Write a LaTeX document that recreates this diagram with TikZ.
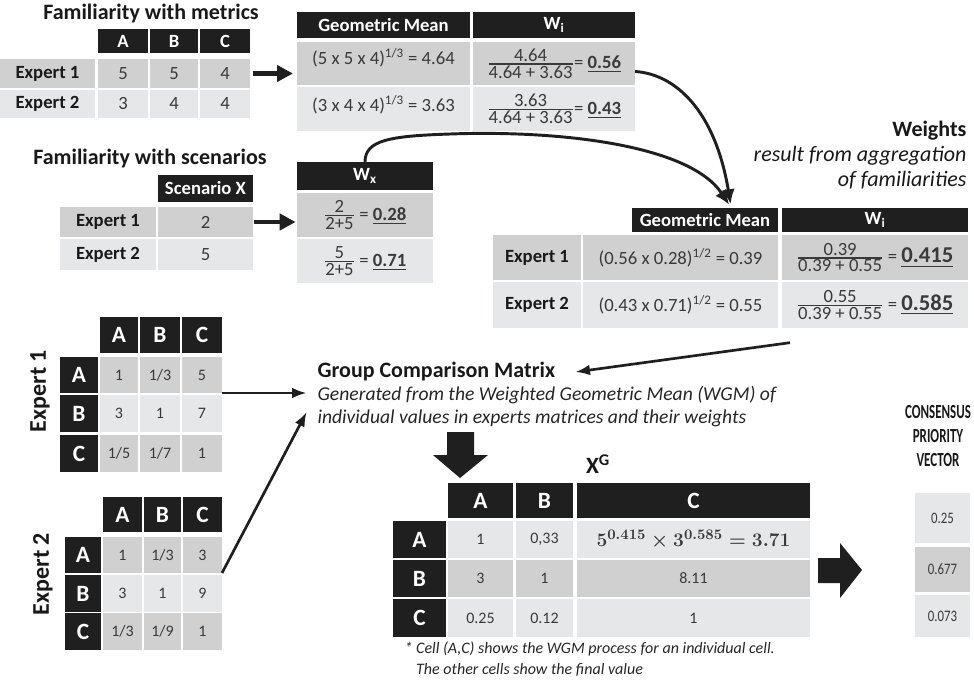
\documentclass[tikz,border=0pt]{standalone}
\usepackage{amsmath}
\usepackage[no-math]{fontspec}
\setmainfont{Carlito}
\usetikzlibrary{arrows.meta,calc}
\definecolor{hdrc}{HTML}{1F1F1F}
\definecolor{cellD}{HTML}{D0D0D1}
\definecolor{cellL}{HTML}{E6E7E8}
\definecolor{valc}{HTML}{3A3A3A}
\newcommand{\tfont}{\fontsize{16.5}{19}\selectfont}
\newcommand{\cfont}{\fontsize{14}{16}\selectfont}
\newcommand{\sfont}{\fontsize{12}{14}\selectfont}
\newcommand{\hfont}{\fontsize{17.5}{20}\selectfont}
\newcommand{\nfont}{\fontsize{12}{16}\selectfont}
\newcommand{\wfrac}[2]{$\genfrac{}{}{0.9pt}{1}{\mbox{#1}}{\mbox{#2}}$}
\newcommand{\narrow}[1]{\scalebox{0.65}[1]{#1}}
% cell: name, style, x1, y1, x2, y2, text (pixel coordinates)
\newcommand{\tcell}[7]{%
  \pgfmathsetmacro{\cellw}{((#5)-(#3))*0.75}%
  \pgfmathsetmacro{\cellh}{((#6)-(#4))*0.75}%
  \node[cellbase, #2, minimum width=\cellw pt, minimum height=\cellh pt] (#1) at ({((#3)+(#5))/2},{((#4)+(#6))/2}) {#7};}
\tikzset{
  cellbase/.style={inner sep=0pt, outer sep=0pt, text=valc, font=\cfont},
  hdr/.style={fill=hdrc, text=white, font=\cfont\bfseries},
  mhdr/.style={fill=hdrc, text=white, font=\hfont\bfseries},
  dk/.style={fill=cellD},
  lt/.style={fill=cellL},
  lbl/.style={text=black!90, font=\cfont\bfseries},
  sm/.style={font=\sfont},
  ttl/.style={inner sep=1pt, font=\tfont\bfseries, text=black!90},
  itl/.style={inner sep=1pt, font=\tfont\itshape, text=black!85},
  bigarrow/.style={line width=3.5pt, draw=hdrc, -{Triangle[length=12pt,width=12pt]}},
  conn/.style={line width=2.2pt, draw=hdrc, -{Latex[length=11pt,width=10pt]}},
  tarrow/.style={line width=2pt, draw=hdrc, -{Latex[length=11pt,width=8pt]}},
}
\begin{document}
\begin{tikzpicture}[x=0.75pt, y=-0.75pt]
\fill[white] (0,0) rectangle (974,690);
\useasboundingbox (0,0) rectangle (974,690);

% familiarity with metrics
\node[ttl] (famm) at (151,14) {Familiarity with metrics};
\foreach \cn/\xa/\xb in {A/98/148, B/150/198, C/200/250}
  {\tcell{mh\cn}{hdr}{\xa}{29}{\xb}{53}{\cn}}
\foreach \rn/\ya/\yb/\sty/\va/\vb/\vc in {1/59/88/dk/5/5/4, 2/90/118/lt/3/4/4}{
  \tcell{m\rn}{\sty,lbl}{0}{\ya}{95}{\yb}{Expert \rn}
  \tcell{m\rn A}{\sty}{98}{\ya}{148}{\yb}{\va}
  \tcell{m\rn B}{\sty}{150}{\ya}{198}{\yb}{\vb}
  \tcell{m\rn C}{\sty}{200}{\ya}{250}{\yb}{\vc}
}

% geometric mean of metric familiarities
\tcell{gmh}{hdr}{297}{12}{470}{38}{Geometric Mean}
\tcell{wih}{hdr}{473}{12}{635}{38}{W\textsubscript{i}}
\tcell{gm1}{dk}{297}{42}{470}{85}{}
\tcell{gm2}{lt}{297}{87}{470}{131}{}
\node[cellbase] (gm1t) at ([yshift=4pt]gm1.center) {(5 x 5 x 4)\textsuperscript{1/3} = 4.64};
\node[cellbase] (gm2t) at ([yshift=3pt]gm2.center) {(3 x 4 x 4)\textsuperscript{1/3} = 3.63};
\tcell{wi1}{dk}{473}{42}{635}{85}{\wfrac{4.64}{4.64 + 3.63}= \textbf{\underline{0.56}}}
\tcell{wi2}{lt}{473}{87}{635}{131}{\wfrac{3.63}{4.64 + 3.63}= \textbf{\underline{0.43}}}

% familiarity with scenarios
\node[ttl] (fams) at (150,159) {Familiarity with scenarios};
\tcell{sch}{hdr}{158}{175}{253}{202}{Scenario X}
\foreach \rn/\ya/\yb/\sty/\va in {1/207/237/dk/2, 2/239/270/lt/5}{
  \tcell{s\rn}{\sty,lbl}{60}{\ya}{156}{\yb}{Expert \rn}
  \tcell{s\rn v}{\sty}{158}{\ya}{253}{\yb}{\va}
}
\tcell{wxh}{hdr}{297}{162}{433}{190}{W\textsubscript{x}}
\tcell{wx1}{dk}{297}{193}{433}{237}{\wfrac{2}{2+5} = \textbf{\underline{0.28}}}
\tcell{wx2}{lt}{297}{239}{433}{283}{\wfrac{5}{2+5} = \textbf{\underline{0.71}}}

% weights
\node[ttl, font=\tfont, align=right, anchor=north east] (wttl) at (968,119)
  {\textbf{Weights}\\\textit{result from aggregation}\\\textit{of familiarities}};
\tcell{wgmh}{hdr}{632}{208}{778}{232}{Geometric Mean}
\tcell{wwih}{hdr}{782}{208}{968}{232}{W\textsubscript{i}}
\foreach \rn/\ya/\yb/\sty/\ga/\gb/\gv/\wv in {1/235/280/dk/0.56/0.28/0.39/0.415, 2/282/328/lt/0.43/0.71/0.55/0.585}{
  \tcell{w\rn}{\sty,lbl}{493}{\ya}{581}{\yb}{Expert \rn}
  \tcell{w\rn g}{\sty}{583}{\ya}{778}{\yb}{(\ga{} x \gb)\textsuperscript{1/2} = \gv}
  \tcell{w\rn w}{\sty}{782}{\ya}{968}{\yb}{\wfrac{\gv}{0.39 + 0.55} = {\fontsize{17}{19}\selectfont\bfseries\underline{\wv}}}
}
\coordinate (wtip) at ($(wgmh.north west)!0.68!(wgmh.north east)$);

% group comparison matrix
\node[ttl, anchor=west] (gcm) at (316,372) {Group Comparison Matrix};
\node[itl, font=\fontsize{14.7}{17}\selectfont\itshape, anchor=west] (gen1) at (316,395) {Generated from the Weighted Geometric Mean (WGM) of};
\node[itl, font=\fontsize{14.7}{17}\selectfont\itshape, anchor=west] (gen2) at (316,418) {individual values in experts matrices and their weights};

% expert matrices
\node[ttl, font=\fontsize{18}{20}\selectfont\bfseries, rotate=90] (ex1) at (40,391) {Expert 1};
\foreach \cn/\xa/\xb in {A/100/138, B/140/180, C/182/222}
  {\tcell{e1h\cn}{mhdr}{\xa}{317}{\xb}{353}{\cn}}
\foreach \rn/\ya/\yb/\sty/\va/\vb/\vc in {A/357/393/dk/1/{1/3}/5, B/395/432/lt/3/1/7, C/435/472/dk/{1/5}/{1/7}/1}{
  \tcell{e1\rn}{mhdr}{60}{\ya}{98}{\yb}{\rn}
  \tcell{e1\rn A}{\sty,sm}{100}{\ya}{138}{\yb}{\va}
  \tcell{e1\rn B}{\sty,sm}{140}{\ya}{180}{\yb}{\vb}
  \tcell{e1\rn C}{\sty,sm}{182}{\ya}{222}{\yb}{\vc}
}
\node[ttl, font=\fontsize{18}{20}\selectfont\bfseries, rotate=90] (ex2) at (43,574) {Expert 2};
\foreach \cn/\xa/\xb in {A/103/142, B/144/181, C/183/222}
  {\tcell{e2h\cn}{mhdr}{\xa}{497}{\xb}{532}{\cn}}
\foreach \rn/\ya/\yb/\sty/\va/\vb/\vc in {A/537/573/dk/1/{1/3}/3, B/575/612/lt/3/1/9, C/613/650/dk/{1/3}/{1/9}/1}{
  \tcell{e2\rn}{mhdr}{65}{\ya}{101}{\yb}{\rn}
  \tcell{e2\rn A}{\sty,sm}{103}{\ya}{142}{\yb}{\va}
  \tcell{e2\rn B}{\sty,sm}{144}{\ya}{181}{\yb}{\vb}
  \tcell{e2\rn C}{\sty,sm}{183}{\ya}{222}{\yb}{\vc}
}

% group matrix X^G
\node[ttl, font=\hfont\bfseries] (xg) at (598,464) {X\textsuperscript{G}};
\foreach \cn/\xa/\xb in {A/448/513, B/516/573, C/577/810}
  {\tcell{gh\cn}{mhdr}{\xa}{483}{\xb}{518}{\cn}}
\foreach \rn/\ya/\yb/\sty/\va/\vb/\vc in {A/521/558/lt/1/{0,33}/{{\fontsize{15.3}{17}\selectfont\boldmath$5^{0.415}\times3^{0.585}=3.71$}}, B/560/597/dk/3/1/8.11, C/599/637/lt/0.25/0.12/1}{
  \tcell{g\rn}{mhdr}{393}{\ya}{446}{\yb}{\rn}
  \tcell{g\rn A}{\sty,sm}{448}{\ya}{513}{\yb}{\va}
  \tcell{g\rn B}{\sty,sm}{516}{\ya}{573}{\yb}{\vb}
  \tcell{g\rn C}{\sty,sm}{577}{\ya}{810}{\yb}{\vc}
}
\node[itl, font=\nfont\itshape, anchor=north west, align=left] (note) at (403,640)
  {* Cell (A,C) shows the WGM process for an individual cell.\\\phantom{* }The other cells show the final value};

% consensus priority vector
\node[ttl, font=\fontsize{15}{18}\selectfont\bfseries, align=center] (cpv) at (938,436)
  {\narrow{CONSENSUS}\\\narrow{PRIORITY}\\\narrow{VECTOR}};
\tcell{v1}{lt,sm}{915}{493}{970}{543}{\scalebox{0.8}[1]{0.25}}
\tcell{v2}{dk,sm}{915}{547}{970}{592}{\scalebox{0.8}[1]{0.677}}
\tcell{v3}{lt,sm}{915}{595}{970}{637}{\scalebox{0.8}[1]{0.073}}

% block arrows
\fill[hdrc] (447,432) -- (474,432) -- (474,455) -- (488,455) -- (460,478) -- (433,455) -- (447,455) -- cycle;
\fill[hdrc] (818,558) -- (840,558) -- (840,543) -- (862,570) -- (840,598) -- (840,583) -- (818,583) -- cycle;

% connectors
\draw[bigarrow, shorten <=2pt, shorten >=3pt] (m1C.east) -- (m1C.east -| gm1.west);
\draw[bigarrow, shorten <=1pt, shorten >=1pt] (s1v.east) -- (s1v.east -| wx1.west);
\draw[conn, shorten >=3pt] ([yshift=-6pt]wi1.east) .. controls (675,74) and (715,110) .. (wtip);
\draw[conn, shorten >=3pt] (wxh.north) .. controls (365,140) and (390,136) .. (450,134)
  .. controls (560,130) and (690,145) .. (wtip);
\draw[tarrow] ([shift={(6pt,-11pt)}]w2w.south west) -- ([xshift=14pt]gcm.east);
\draw[tarrow, shorten >=7pt] (e1AC.south east) -- (e1AC.south east -| gen1.west);
\draw[tarrow] (e2AC.south east) -- ([xshift=-7pt,yshift=-3pt]gen2.north west);
\end{tikzpicture}
\end{document}
